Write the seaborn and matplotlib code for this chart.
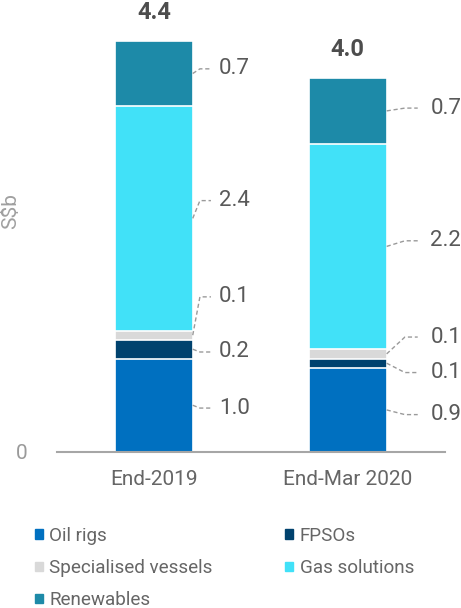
import numpy as np
import pandas as pd
import seaborn as sns
import matplotlib.pyplot as plt
from matplotlib.patches import Patch

# Order of stacking, bottom to top
segments = ['Oil rigs', 'FPSOs', 'Specialised vessels', 'Gas solutions', 'Renewables']
periods = ['End-2019', 'End-Mar 2020']
end_2019 = [1.0, 0.2, 0.1, 2.4, 0.7]
end_mar_2020 = [0.9, 0.1, 0.1, 2.2, 0.7]
totals = [4.4, 4.0]

colors = ['#0070C0', '#00426E', '#D9D9D9', '#41E1F8', '#1D8AA8']

# Where the value labels sit (data units), per bar
label_y = [[0.47, 1.07, 1.66, 2.69, 4.10],
           [0.40, 0.85, 1.23, 2.26, 3.68]]

sns.set_theme(style='white')
plt.rcParams['font.family'] = ['Roboto', 'DejaVu Sans']

values = pd.DataFrame([end_2019, end_mar_2020], index=periods, columns=segments)
cum = values.cumsum(axis=1)

fig = plt.figure(figsize=(4.61, 6.08), dpi=100)
ax = fig.add_axes([0.1236, 0.2566, 0.8414, 0.727])

# stacked bars: draw cumulative heights from the top segment down
for seg, col in reversed(list(zip(segments, colors))):
    sns.barplot(x=periods, y=cum[seg].values, color=col, width=0.4,
                edgecolor='white', linewidth=1.2, saturation=1, ax=ax)

ax.set_xlim(-0.5, 1.5)
ax.set_ylim(0, 4.73)

# value labels with dashed leader lines
edge_x = [0.2, 1.2]
elbow_x = [0.237, 1.294]
end_x = [0.294, 1.36]
text_x = [0.335, 1.425]
for i, period in enumerate(periods):
    vals = values.loc[period].values
    tops = cum.loc[period].values
    for j, v in enumerate(vals):
        mid = tops[j] - v / 2
        ly = label_y[i][j]
        ax.plot([edge_x[i], elbow_x[i], end_x[i]], [mid, ly, ly],
                color='#9A9A9A', lw=1, dashes=(3, 2), clip_on=False)
        ax.text(text_x[i], ly, f'{v:.1f}', ha='left', va='center',
                fontsize=16, color='#595959')
    ax.text(i, totals[i] + 0.18, f'{totals[i]:.1f}', ha='center', va='bottom',
            fontsize=17, fontweight='bold', color='#4D4D4D')

for s in ['top', 'right', 'left']:
    ax.spines[s].set_visible(False)
ax.spines['bottom'].set_color('#A6A6A6')
ax.spines['bottom'].set_linewidth(1.5)

ax.set_yticks([0])
ax.set_yticklabels(['0'])
ax.tick_params(axis='y', length=0, pad=21, labelsize=15, labelcolor='#9A9A9A')
ax.tick_params(axis='x', length=0, pad=13, labelsize=15, labelcolor='#666666')
ax.set_xlabel('')
ax.set_ylabel(r'S\$b', fontsize=15, color='#A0A0A0', labelpad=0)
ax.yaxis.set_label_coords(-0.095, 0.545)

handles = [Patch(color=c, label=s) for s, c in zip(segments, colors)]
order = [0, 2, 4, 1, 3]
fig.legend([handles[k] for k in order], [segments[k] for k in order],
           loc='upper left', bbox_to_anchor=(0.075, 1 - 527 / 608), ncol=2,
           frameon=False, fontsize=13.6, labelcolor='#666666',
           handlelength=0.42, handleheight=0.42, handletextpad=0.35,
           labelspacing=0.75, columnspacing=3.85, borderpad=0, borderaxespad=0)

fig.savefig('out.png', dpi=100)
